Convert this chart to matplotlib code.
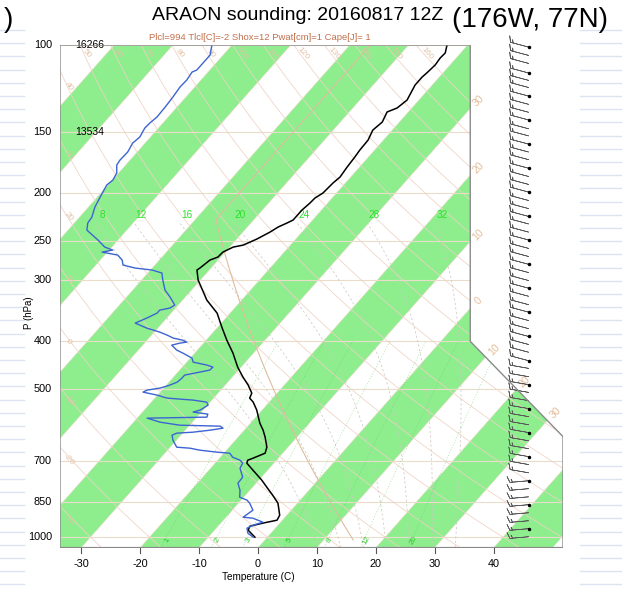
import numpy as np
import matplotlib
matplotlib.use('Agg')
import matplotlib.pyplot as plt
from matplotlib.patches import Polygon

plt.rcParams['font.family'] = ['Liberation Sans', 'DejaVu Sans']

# ---------------- data ----------------
temp_p = [100, 103.8, 106.3, 109.8, 113.5, 116.2, 120.6, 129.4, 134.3, 136.8, 143.4, 148.9,
          156.0, 163.5, 168.9, 177.0, 185.5, 190.8, 199.9, 204.6, 209.5, 216.5, 226.8, 230.0,
          234.4, 239.9, 247.9, 255.0, 257.4, 263.5, 269.7, 273.5, 283.9, 286.6, 300.3, 329.9,
          350.6, 374.3, 397.8, 422.7, 451.3, 472.9, 491.0, 509.6, 521.7, 531.6, 551.8, 586.7,
          606.2, 626.4, 656.4, 675.1, 691.1, 697.6, 707.4, 731.0, 766.0, 791.5, 821.7, 853.0,
          902.3, 923.6, 936.7, 949.9, 967.9, 1000]
temp_c = [-43.5, -42.6, -42.7, -42.5, -42.7, -42.9, -42.9, -42.0, -42.5, -43.6, -42.9, -43.3,
          -42.6, -42.5, -42.3, -42.1, -41.8, -42.1, -42.3, -42.9, -43.0, -43.3, -43.3, -43.9,
          -44.8, -45.4, -46.6, -48.0, -49.4, -50.4, -50.5, -51.4, -51.9, -52.1, -50.4, -45.9,
          -42.2, -39.3, -36.5, -33.5, -30.6, -28.2, -26.1, -24.3, -23.9, -22.7, -20.9, -18.4,
          -16.8, -15.4, -13.6, -13.0, -14.3, -14.9, -14.6, -12.5, -9.5, -7.6, -5.4, -3.3,
          -1.2, -0.9, -2.9, -4.6, -4.3, -2.1]

dewp_p = [100, 104.8, 108.8, 112.4, 113.5, 117.8, 121.7, 127.6, 133.7, 140.1, 144.0, 147.5,
          153.8, 158.2, 165.0, 171.3, 175.4, 182.0, 188.1, 192.5, 203.7, 213.4, 223.7, 230.0,
          237.7, 249.1, 257.4, 261.0, 263.5, 267.2, 273.5, 280.0, 283.9, 286.6, 290.6, 300.3,
          314.8, 325.2, 337.7, 342.4, 345.7, 350.6, 358.8, 367.3, 376.0, 383.1, 388.5, 394.0,
          397.8, 401.5, 403.4, 407.2, 416.8, 422.7, 432.7, 440.9, 447.1, 451.3, 457.7, 462.0,
          468.5, 475.1, 484.1, 491.0, 497.8, 502.5, 507.3, 514.4, 521.7, 524.2, 526.6, 531.6,
          539.1, 551.8, 557.0, 562.3, 570.3, 573.0, 583.9, 592.2, 594.9, 600.5, 606.2, 611.9,
          614.7, 620.5, 635.2, 656.4, 659.5, 665.7, 671.9, 675.1, 687.9, 697.6, 707.4, 724.2,
          755.3, 776.8, 802.7, 829.4, 841.1, 853.0, 881.4, 910.8, 915.0, 932.3, 945.5, 958.9,
          981.5, 1000]
dewp_c = [-83.4, -82.2, -82.2, -82.2, -82.7, -82.4, -82.5, -82.2, -82.0, -81.9, -82.2, -82.3,
          -81.8, -82.1, -81.6, -81.7, -81.5, -80.3, -79.9, -80.2, -79.5, -78.9, -77.9, -77.7,
          -76.8, -73.4, -71.2, -69.4, -70.9, -67.8, -66.3, -65.4, -62.9, -59.7, -57.6, -56.4,
          -54.5, -52.6, -50.6, -51.0, -52.4, -52.4, -53.4, -54.6, -51.9, -49.1, -47.4, -45.9,
          -44.0, -43.0, -44.0, -45.1, -43.5, -42.0, -39.7, -38.9, -36.1, -34.8, -34.9, -36.3,
          -38.4, -38.4, -38.6, -39.4, -40.6, -42.5, -42.9, -40.1, -37.9, -35.6, -33.2, -30.6,
          -29.9, -30.5, -31.4, -28.6, -28.3, -38.3, -35.5, -31.7, -24.7, -23.9, -25.8, -28.4,
          -31.0, -31.5, -30.6, -28.9, -26.5, -24.5, -21.3, -19.0, -17.9, -16.2, -15.3, -15.0,
          -13.2, -13.1, -11.7, -10.7, -9.0, -8.1, -6.5, -7.1, -5.3, -3.0, -4.2, -4.8,
          -3.9, -2.4]

wind_p = [101, 105, 109, 114, 118, 122, 127, 132, 137, 142, 148, 153, 159, 165, 171, 178,
          185, 192, 199, 207, 215, 223, 231, 240, 249, 259, 269, 279, 290, 301, 312, 324,
          337, 349, 363, 377, 391, 406, 421, 438, 454, 472, 490, 508, 528, 548, 569, 591,
          613, 637, 661, 686, 712, 740, 768, 797, 828, 859, 892, 926, 961, 998]
wind_spd = [15] * 40 + [15] * 22
wind_dir = [285] * 40 + [280] * 14 + [265] * 8

height_p = [100, 150]
height_m = ['16266', '13534']

p_ticks = [100, 150, 200, 250, 300, 400, 500, 700, 850, 1000]
t_ticks = [-30, -20, -10, 0, 10, 20, 30, 40]
theta_labels = list(range(-30, 161, 10))
moist_labels = [8, 12, 16, 20, 24, 28, 32]
mix_labels = [1, 2, 3, 5, 8, 12, 20]
iso_labels = [-30, -20, -10, 0, 10, 20, 30]

title = 'ARAON sounding: 20160817 12Z'
subtitle = 'Plcl=994 Tlcl[C]=-2 Shox=12 Pwat[cm]=1 Cape[J]= 1'
location = '(176W, 77N)'


# ---------------- skew-T coordinates (NCL style) ----------------
def sk_y(p):
    return 132.182 - 44.061 * np.log10(np.asarray(p, dtype=float))


def sk_x(t, y):
    return 0.54 * np.asarray(t, dtype=float) + 0.90692 * np.asarray(y, dtype=float)


XMIN, XMAX = -19.0, 27.1
YMIN, YMAX = float(sk_y(1050)), float(sk_y(100))

fig = plt.figure(figsize=(6.22, 5.89), dpi=100)

# light blue ruled margins of the slide behind the chart
for yy0 in np.arange(30, 589, 13.2):
    fig.add_artist(plt.Line2D([0, 24 / 622], [1 - yy0 / 589, 1 - yy0 / 589],
                              color='#DCE4F2', lw=1.0, zorder=-5))
    fig.add_artist(plt.Line2D([580 / 622, 1], [1 - yy0 / 589, 1 - yy0 / 589],
                              color='#DCE4F2', lw=1.0, zorder=-5))

ax = fig.add_axes([60 / 622, 1 - 547.6 / 589, 503 / 622, 502.6 / 589])
ax.set_xlim(XMIN, XMAX)
ax.set_ylim(YMIN, YMAX)
ax.axis('off')

outline = [(XMIN, YMIN), (XMIN, YMAX), (18.6, YMAX), (18.6, 17.53), (27.1, 9.0), (27.1, YMIN)]
clip_patch = Polygon(outline, closed=True, transform=ax.transData)


def clipped(artists):
    for a in artists:
        a.set_clip_path(clip_patch)


ax.add_patch(Polygon(outline, closed=True, facecolor='white', edgecolor='none', zorder=0))

# green temperature bands
for t0 in range(-120, 50, 10):
    if (t0 // 10) % 2 == 0:
        poly = Polygon([(sk_x(t0, YMIN), YMIN), (sk_x(t0 + 10, YMIN), YMIN),
                        (sk_x(t0 + 10, YMAX), YMAX), (sk_x(t0, YMAX), YMAX)],
                       closed=True, facecolor='#8EEE8E', edgecolor='none', zorder=1)
        ax.add_patch(poly)
        poly.set_clip_path(clip_patch)

# isobars
for p in p_ticks:
    ln = ax.plot([XMIN, XMAX], [sk_y(p), sk_y(p)], color='#EADCCB', lw=0.8, zorder=2)
    clipped(ln)

# isotherms (they sit on the band edges)
for t in range(-120, 50, 10):
    ln = ax.plot([sk_x(t, YMIN), sk_x(t, YMAX)], [YMIN, YMAX], color='#F3DCCF', lw=0.4, zorder=2)
    clipped(ln)

# dry adiabats
pp = np.linspace(1050, 100, 200)
yy = sk_y(pp)
for th in theta_labels:
    tt = (th + 273.15) * (pp / 1000.0) ** 0.2857 - 273.15
    ln = ax.plot(sk_x(tt, yy), yy, color='#EFD2C4', lw=0.55, zorder=2)
    clipped(ln)


def sat_mix(t_c, p):
    es = 6.112 * np.exp(17.67 * t_c / (t_c + 243.5))
    return 0.622 * es / (p - es)


def moist_profile(tw, p_end=230.0):
    t = tw + 273.15
    p = 1000.0
    dp = 2.0
    Rd, cp, Lv, eps = 287.04, 1005.7, 2.501e6, 0.622

    def dtdp(t, p):
        rs = sat_mix(t - 273.15, p)
        return (Rd * t + Lv * rs) / (p * (cp + Lv * Lv * rs * eps / (Rd * t * t)))

    while p < 1050:
        t += dtdp(t, p) * dp
        p += dp
    out_p = [p]
    out_t = [t]
    while p > p_end:
        k1 = dtdp(t, p)
        k2 = dtdp(t - 0.5 * dp * k1, p - 0.5 * dp)
        t -= dp * k2
        p -= dp
        out_p.append(p)
        out_t.append(t)
    return np.array(out_p), np.array(out_t) - 273.15


for tw in moist_labels:
    mp, mt = moist_profile(tw)
    my = sk_y(mp)
    ln = ax.plot(sk_x(mt, my), my, color='#CFC9C0', lw=0.55, ls=(0, (3, 3)), zorder=2)
    clipped(ln)
    ly = sk_y(222)
    ax.text(sk_x(mt[-1], sk_y(mp[-1])) + 0.6, ly, str(tw), color='#2BE02B', fontsize=7.2,
            ha='center', va='center', zorder=6)

# mixing ratio lines
pm = np.linspace(1050, 400, 100)
ym = sk_y(pm)
for w in mix_labels:
    e = (w / 1000.0) * pm / (0.622 + w / 1000.0)
    le = np.log(e / 6.112)
    tm = 243.5 * le / (17.67 - le)
    ln = ax.plot(sk_x(tm, ym), ym, color='#5CCB5C', lw=0.5, ls=(0, (1.5, 2.5)), alpha=0.6, zorder=2)
    clipped(ln)
    e0 = (w / 1000.0) * 1015 / (0.622 + w / 1000.0)
    l0 = np.log(e0 / 6.112)
    t0 = 243.5 * l0 / (17.67 - l0)
    ax.text(sk_x(t0, sk_y(1015)) + 0.2, sk_y(1015), str(w), color='#2BCB2B', fontsize=5.8,
            rotation=60, ha='center', va='center', zorder=6)

# standard atmosphere
ps_ = np.linspace(1013.25, 100, 300)
z = 44330.8 * (1 - (ps_ / 1013.25) ** 0.190263)
ts_ = np.where(z < 11000, 15 - 6.5 * z / 1000.0, -56.5)
ys_ = sk_y(ps_)
ln = ax.plot(sk_x(ts_, ys_), ys_, color='#DDBE9E', lw=0.8, zorder=3)
clipped(ln)

# dry adiabat labels
for th in theta_labels:
    tt = (th + 273.15) * (pp / 1000.0) ** 0.2857 - 273.15
    xx = sk_x(tt, yy)
    if xx[-1] > XMIN + 0.5:
        ylab = YMAX - 0.8
        plab = 10 ** ((132.182 - ylab) / 44.061)
        tl = (th + 273.15) * (plab / 1000.0) ** 0.2857 - 273.15
        ax.text(sk_x(tl, ylab) + 0.3, ylab, str(th), color='#E2C2A6', fontsize=6,
                rotation=-50, ha='center', va='center', zorder=6)
    else:
        idx = np.argmin(np.abs(xx - XMIN))
        ax.text(XMIN + 0.8, yy[idx] - 1.2, str(th), color='#E2C2A6', fontsize=6,
                rotation=-50, ha='center', va='center', zorder=6)

# isotherm labels (outside the frame)
for t in iso_labels:
    y_r = (18.6 - 0.54 * t) / 0.90692
    if y_r >= 17.53:
        xi, yi = 18.6, y_r
    else:
        yi = (36.13 - 0.54 * t) / 1.90692
        xi = 36.13 - yi
    ax.text(xi + 0.75, yi + 0.65, str(t).replace('-', ''), color='#E4BC98', fontsize=7.5,
            rotation=45, ha='center', va='center', zorder=6)

ax.add_patch(Polygon(outline, closed=True, facecolor='none', edgecolor='#8A8A8A', lw=1.0, zorder=10))

# sounding
ty = sk_y(temp_p)
ax.plot(sk_x(temp_c, ty), ty, color='black', lw=1.1, zorder=8)
dy = sk_y(dewp_p)
ax.plot(sk_x(dewp_c, dy), dy, color='#3C64D2', lw=1.0, zorder=8)

# wind barbs
wy = sk_y(wind_p)
wx = np.full(len(wind_p), 23.95)
wd = np.deg2rad(np.array(wind_dir, dtype=float))
ws = np.array(wind_spd, dtype=float)
u = -ws * np.sin(wd)
v = -ws * np.cos(wd)
ax.barbs(wx, wy, u, v, length=5.2, linewidth=0.5, color='#5A5A5A', clip_on=False, zorder=9,
         sizes=dict(spacing=0.14, height=0.32, width=0.25))
ax.plot(wx[::3], wy[::3], 'o', color='black', ms=1.5, zorder=9, clip_on=False)

# heights
for p, h in zip(height_p, height_m):
    ax.text(-17.6, sk_y(p), h, fontsize=7.5, ha='left', va='center', zorder=9)

# ticks
for p in p_ticks:
    ax.text(XMIN - 0.75, sk_y(p), str(p), fontsize=7.8, ha='right', va='center')
for t in t_ticks:
    xt = sk_x(t, YMIN)
    ax.plot([xt, xt], [YMIN, YMIN - 0.5], color='#555555', lw=0.8, clip_on=False)
    ax.text(xt, YMIN - 1.45, str(t), fontsize=7.8, ha='center', va='center')

ax.text(-21.8, sk_y(350), 'P (hPa)', fontsize=7, rotation=90, ha='center', va='center')
ax.text(sk_x(0, YMIN), YMIN - 2.65, 'Temperature (C)', fontsize=7.2, ha='center', va='center')

fig.text(298 / 622, 1 - 16 / 589, title, fontsize=14, ha='center', va='center')
fig.text(530 / 622, 1 - 20 / 589, location, fontsize=20, ha='center', va='center')
fig.text(8 / 622, 1 - 20 / 589, ')', fontsize=20, ha='center', va='center')
fig.text(260 / 622, 1 - 38 / 589, subtitle, fontsize=6.8, ha='center', va='center', color='#C0704C')

fig.savefig('out.png', dpi=100)
